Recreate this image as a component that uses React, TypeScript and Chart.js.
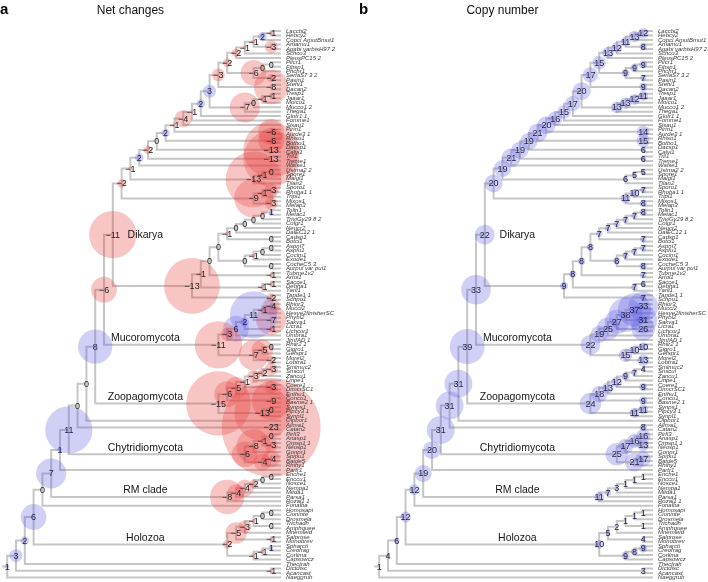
import React, { useEffect, useRef } from "react";
import { Chart, registerables } from "chart.js";

Chart.register(...registerables);

// ---------------- DATA ----------------
// Tip labels, in plotting order (top to bottom)
const basidioTips = [
  "Laccbi2", "Hebcy2", "Copci AmutBmut1", "Amamu1", "Agabi varbisH97 2", "Schco3", "PleosPC15 2",
  "Pilcr1", "Fibsp1", "Phchr1", "SerlaS7 3 2", "Pasin1", "Stehi1", "Dacan2", "Tresp1", "Jaaar1",
  "Moico1", "Mucco1 2", "Thega1", "Glotr1 1", "Fomme1", "Sisau1", "Pirin1", "Aurde3 1", "Rhiso1",
  "Botbo1", "Dacsp1", "Calvi1", "Tril1", "Treme1", "Walse1", "Ustma2 2", "Spore1", "Malgl1",
  "Tilan2", "Sporo1", "Rhoba1 1", "Tripl1", "Mixos1", "Melap3",
];
const ascoTips = [
  "Tolin1", "Metac1", "TriviGv29 8 2", "Colgr1", "Neucr2", "DalEC12 1", "Cadsp1", "Botci1",
  "Aspni7", "Aspfu1", "Cocim1", "Exode1", "CocheC5 3", "Aurpul var pul1", "Tubme1v2", "Artol1",
  "Sacce1", "Debha1", "Yarli1", "Tapde1 1", "Schpo1",
];
const mucoroTips = [
  "Rhior3", "Mucci2", "Hesve2finisherSC", "Phybl2", "Sakva1", "Licra1", "Lichcor1", "Umbra1",
  "JimfAD 1", "Rhiir2 1", "Gigro1", "Gefspr1", "Morel2", "Lobtra1",
];
const zoopagoTips = [
  "Smimuc2", "Smicul", "Zancu1", "Linpe1", "Coere1", "DimcrSC1", "Enthu1", "Conco1",
  "Basme2 1", "Synps1", "Pipcy3 1", "Synpl1",
];
const earlyFungiTips = [
  "Olpbor1", "Allma1", "Catan2", "Pirfi3", "Anasp1", "Orpsp1 1", "Neosp1", "Gonpr1",
  "Spipu1", "Batde5", "Rhihy1", "Partr1",
];
const rmTips = ["Enche1", "Enccu1", "Nosce1", "Nempa1", "Mitda1", "Parsa1", "Rozal1 1"];
const holozoaTips = [
  "Fonalba", "Homosapi", "Cioninte", "Drosmela", "Trichadh", "Amphquee", "Mnemleid",
  "Salprose", "Monobrev", "Spharcti", "Creofrag", "Corlima", "Capsowcz",
];
const outgroupTips = ["Thectrah", "Dictdisc", "Acancast", "Naeggrub"];

// Internal nodes: [id, child1, child2, copy number]; numbers are tip positions (1-based)
type NodeDef = [string, number | string, number | string, number];

const basidioNodes: NodeDef[] = [
  ["b1", 1, 2, 12], ["b2", "b1", 3, 13], ["b3", 4, 5, 8], ["b4", "b2", "b3", 11],
  ["b5", "b4", 6, 12], ["b6", "b5", 7, 13], ["b7", 8, 9, 9], ["b8", "b7", 10, 9],
  ["b9", 11, 12, 7], ["b10", "b8", "b9", 9], ["b11", "b6", "b10", 15], ["b12", 13, 14, 9],
  ["b13", "b11", "b12", 17], ["b14", 15, 16, 11], ["b15", "b14", 17, 12], ["b16", "b15", 18, 13],
  ["b17", "b16", 19, 13], ["b18", "b13", "b17", 20], ["b19", "b18", 20, 17], ["b20", "b19", 21, 15],
  ["b21", "b20", 22, 16], ["b22", 23, 24, 14], ["b23", "b21", "b22", 20], ["b24", 25, 26, 15],
  ["b25", "b23", "b24", 21], ["b26", 27, 28, 6], ["b27", "b25", "b26", 19], ["b28", 29, 30, 6],
  ["b29", "b27", "b28", 19], ["b30", "b29", 31, 21], ["b31", 32, 33, 5], ["b32", "b31", 34, 5],
  ["b33", "b32", 35, 6], ["b34", "b30", "b33", 19], ["b35", 36, 37, 7], ["b36", "b35", 38, 10],
  ["b37", 39, 40, 8], ["b38", "b36", "b37", 11], ["basidio", "b34", "b38", 20],
];
const ascoNodes: NodeDef[] = [
  ["a1", 41, 42, 8], ["a2", "a1", 43, 7], ["a3", "a2", 44, 7], ["a4", "a3", 45, 7],
  ["a5", "a4", 46, 7], ["a6", 47, 48, 7], ["a7", "a5", "a6", 7], ["a8", 49, 50, 7],
  ["a9", "a8", 51, 7], ["a10", "a9", 52, 7], ["a11", 53, 54, 8], ["a12", "a10", "a11", 8],
  ["a13", "a7", "a12", 8], ["a14", 55, 56, 7], ["a15", "a13", "a14", 8], ["a16", 57, 58, 6],
  ["a17", "a16", 59, 7], ["a18", "a15", "a17", 8], ["a19", 60, 61, 7], ["asco", "a18", "a19", 9],
  ["dikarya", "basidio", "asco", 22],
];
const mucoroNodes: NodeDef[] = [
  ["m1", 62, 63, 33], ["m2", "m1", 64, 37], ["m3", 65, 66, 31], ["m4", "m2", "m3", 38],
  ["m5", 67, 68, 26], ["m6", "m4", "m5", 27], ["m7", "m6", 69, 25], ["m8", "m7", 70, 19],
  ["m9", 71, 72, 10], ["m10", "m9", 73, 10], ["m11", 74, 75, 13], ["m12", "m10", "m11", 15],
  ["mucoro", "m8", "m12", 22], ["n33", "dikarya", "mucoro", 33],
];
const zoopagoNodes: NodeDef[] = [
  ["z1", 76, 77, 4], ["z2", "z1", 78, 7], ["z3", "z2", 79, 9], ["z4", 80, 81, 9],
  ["z5", "z3", "z4", 12], ["z6", "z5", 82, 13], ["z7", 83, 84, 9], ["z8", "z6", "z7", 18],
  ["z9", 85, 86, 11], ["z10", "z9", 87, 11], ["zoopago", "z8", "z10", 24],
  ["n39", "n33", "zoopago", 39],
];
const earlyFungiNodes: NodeDef[] = [
  ["n22", "n39", 88, 31], ["blasto", 89, 90, 8], ["n23", "n22", "blasto", 31],
  ["c1", 91, 92, 16], ["c2", 93, 94, 13], ["c3", "c1", "c2", 16], ["c4", "c3", 95, 17],
  ["c5", 96, 97, 17], ["c6", "c5", 98, 21], ["chytrid", "c4", "c6", 25],
  ["fungi", "n23", "chytrid", 31], ["n25", "fungi", 99, 20],
];
const rmNodes: NodeDef[] = [
  ["r1", 100, 101, 1], ["r2", "r1", 102, 1], ["r3", "r2", 103, 1], ["r4", "r3", 104, 3],
  ["r5", "r4", 105, 7], ["rm", "r5", 106, 11], ["n26", "n25", "rm", 19],
  ["holomycota", "n26", 107, 12],
];
const holozoaNodes: NodeDef[] = [
  ["h1", 108, 109, 1], ["h2", "h1", 110, 1], ["h3", 111, 112, 1], ["h4", "h2", "h3", 1],
  ["h5", "h4", 113, 2], ["h6", 114, 115, 4], ["h7", "h5", "h6", 5], ["h8", 116, 117, 9],
  ["h9", "h8", 118, 8], ["h10", "h9", 119, 9], ["holozoa", "h7", "h10", 10],
  ["n28", "holomycota", "holozoa", 12], ["n29", "n28", 120, 6], ["amoeb", 121, 122, 3],
  ["n30", "n29", "amoeb", 4], ["root", "n30", 123, 1],
];

const cladeNames = ["Dikarya", "Mucoromycota", "Zoopagomycota", "Chytridiomycota", "RM clade", "Holozoa"];
const cladeNodes = ["dikarya", "mucoro", "zoopago", "chytrid", "rm", "holozoa"];

const panelTitles = ["Net changes", "Copy number"];
const panelLetters = ["a", "b"];

// ---------------- LAYOUT / STYLE ----------------
const W = 708;
const H = 582;
const STEP = 8.8; // px per node level
const A_TIP = 280;
const B_TIP = 652;
const FONT = "'Liberation Sans', Arial, Helvetica, sans-serif";
const LINE = "#c6c6c6";
const RED = "rgba(232,62,62,0.30)";
const BLUE = "rgba(86,86,228,0.28)";
const A_SCALE = 2.15; // bubble px per unit of net change
const B_SCALE = 0.45; // bubble px per copy
const CLADE_LABEL_LEVEL = 15.3;
const TITLE_LEVEL = 17;

const tipLabels = [
  ...basidioTips, ...ascoTips, ...mucoroTips, ...zoopagoTips,
  ...earlyFungiTips, ...rmTips, ...holozoaTips, ...outgroupTips,
];
const nodeDefs = [
  ...basidioNodes, ...ascoNodes, ...mucoroNodes, ...zoopagoNodes,
  ...earlyFungiNodes, ...rmNodes, ...holozoaNodes,
];

type TNode = { id: string; kids: (number | string)[]; copies: number; h: number; y: number; parentCopies: number; parent?: TNode };

function buildTree() {
  const map = new Map<string, TNode>();
  nodeDefs.forEach(([id, a, b, c]) =>
    map.set(id, { id, kids: [a, b], copies: c, h: -1, y: 0, parentCopies: 0 })
  );
  const info = (ref: number | string): { h: number; y: number } => {
    if (typeof ref === "number") return { h: 0, y: ref };
    const n = map.get(ref)!;
    if (n.h < 0) {
      const ks = n.kids.map(info);
      n.h = Math.max(...ks.map((k) => k.h)) + 1;
      n.y = ks.reduce((s, k) => s + k.y, 0) / ks.length;
    }
    return n;
  };
  map.forEach((n) => info(n.id));
  map.forEach((n) =>
    n.kids.forEach((k) => {
      if (typeof k === "string") {
        const c = map.get(k)!;
        c.parentCopies = n.copies;
        c.parent = n;
      }
    })
  );
  return { map, nodes: Array.from(map.values()), info };
}

export default function App() {
  const ref = useRef<HTMLCanvasElement | null>(null);

  useEffect(() => {
    const canvas = ref.current;
    if (!canvas) return;
    const { map, nodes, info } = buildTree();
    const N = tipLabels.length;
    const root = map.get("root")!;

    const netData = nodes.map((n) => {
      const v = n.copies - n.parentCopies;
      return { x: n.h, y: n.y, r: Math.abs(v) * A_SCALE, v };
    });
    const copyData = nodes.map((n) => ({ x: n.h, y: n.y, r: n.copies * B_SCALE }));

    const treePlugin = {
      id: "treeDraw",
      beforeDatasetsDraw(chart: any) {
        const ctx = chart.ctx as CanvasRenderingContext2D;
        const ys = chart.scales.y;
        ["xa", "xb"].forEach((axis) => {
          const xs = chart.scales[axis];
          ctx.save();
          ctx.strokeStyle = LINE;
          ctx.lineWidth = 2;
          ctx.lineCap = "square";
          ctx.beginPath();
          nodes.forEach((n) => {
            const px = xs.getPixelForValue(n.h);
            const ks = n.kids.map(info);
            const yy = ks.map((k) => ys.getPixelForValue(k.y));
            ctx.moveTo(px, Math.min(...yy));
            ctx.lineTo(px, Math.max(...yy));
            ks.forEach((k, i) => {
              ctx.moveTo(px, yy[i]);
              ctx.lineTo(xs.getPixelForValue(k.h), yy[i]);
            });
          });
          const ry = ys.getPixelForValue(root.y);
          ctx.moveTo(xs.getPixelForValue(root.h + 0.45), ry);
          ctx.lineTo(xs.getPixelForValue(root.h), ry);
          ctx.stroke();
          ctx.restore();
        });
      },
      afterDatasetsDraw(chart: any) {
        const ctx = chart.ctx as CanvasRenderingContext2D;
        const ys = chart.scales.y;
        const xa = chart.scales.xa;
        const xb = chart.scales.xb;
        ctx.save();
        // node values
        ctx.font = `9px ${FONT}`;
        ctx.textAlign = "center";
        ctx.textBaseline = "middle";
        nodes.forEach((n) => {
          const py = ys.getPixelForValue(n.y) + 0.5;
          const v = n.copies - n.parentCopies;
          ctx.fillStyle = v > 0 ? "#23235a" : "#222222";
          ctx.fillText(v < 0 ? "\u2212" + Math.abs(v) : String(v), xa.getPixelForValue(n.h), py);
          ctx.fillStyle = "#23234e";
          ctx.fillText(String(n.copies), xb.getPixelForValue(n.h), py);
        });
        // tip labels
        ctx.font = `italic 6px ${FONT}`;
        ctx.textAlign = "left";
        ctx.fillStyle = "#3a3a3a";
        tipLabels.forEach((t, i) => {
          const py = ys.getPixelForValue(i + 1);
          ctx.fillText(t, xa.getPixelForValue(0) + 6, py);
          ctx.fillText(t, xb.getPixelForValue(0) + 6, py);
        });
        // clade labels
        ctx.font = `10.5px ${FONT}`;
        ctx.textAlign = "center";
        ctx.fillStyle = "#161616";
        cladeNames.forEach((name, i) => {
          const n = map.get(cladeNodes[i])!;
          [xa, xb].forEach((xs) => {
            const cx = xs.getPixelForValue(CLADE_LABEL_LEVEL);
            const half = ctx.measureText(name).width / 2;
            const x0 = xs.getPixelForValue(n.parent ? n.parent.h : n.h);
            const x1 = xs.getPixelForValue(n.h);
            const overlaps = cx - half < x1 && cx + half > x0;
            const py = ys.getPixelForValue(n.y) + (overlaps ? -6.5 : 0.5);
            ctx.fillText(name, cx, py);
          });
        });
        // titles
        ctx.font = `12px ${FONT}`;
        ctx.fillStyle = "#111111";
        ctx.fillText(panelTitles[0], xa.getPixelForValue(TITLE_LEVEL), 11);
        ctx.fillText(panelTitles[1], xb.getPixelForValue(TITLE_LEVEL), 11);
        ctx.font = `bold 15px ${FONT}`;
        ctx.textAlign = "left";
        ctx.fillStyle = "#000000";
        ctx.fillText(panelLetters[0], 0, 10);
        ctx.fillText(panelLetters[1], 359, 10);
        ctx.restore();
      },
    };

    const chart = new Chart(canvas, {
      type: "bubble",
      data: {
        datasets: [
          {
            data: netData as any,
            xAxisID: "xa",
            yAxisID: "y",
            backgroundColor: (c: any) => (c.raw && c.raw.v > 0 ? BLUE : RED),
            borderWidth: 0,
            clip: false as any,
          },
          {
            data: copyData as any,
            xAxisID: "xb",
            yAxisID: "y",
            backgroundColor: BLUE,
            borderWidth: 0,
            clip: false as any,
          },
        ],
      },
      options: {
        animation: false,
        responsive: false,
        devicePixelRatio: 1,
        events: [],
        layout: { autoPadding: false, padding: { top: 31, bottom: 4.5, left: 0, right: 0 } },
        plugins: { legend: { display: false }, tooltip: { enabled: false }, title: { display: false } },
        scales: {
          xa: { type: "linear", axis: "x", display: false, reverse: true, min: (A_TIP - W) / STEP, max: A_TIP / STEP },
          xb: { type: "linear", axis: "x", display: false, reverse: true, min: (B_TIP - W) / STEP, max: B_TIP / STEP },
          y: { type: "linear", display: false, reverse: true, min: 1, max: N },
        },
      } as any,
      plugins: [treePlugin],
    });
    return () => chart.destroy();
  }, []);

  return (
    <div style={{ position: "fixed", left: 0, top: 0, width: W, height: H, background: "#fff" }}>
      <canvas ref={ref} width={W} height={H} style={{ display: "block", width: W, height: H }} />
    </div>
  );
}
